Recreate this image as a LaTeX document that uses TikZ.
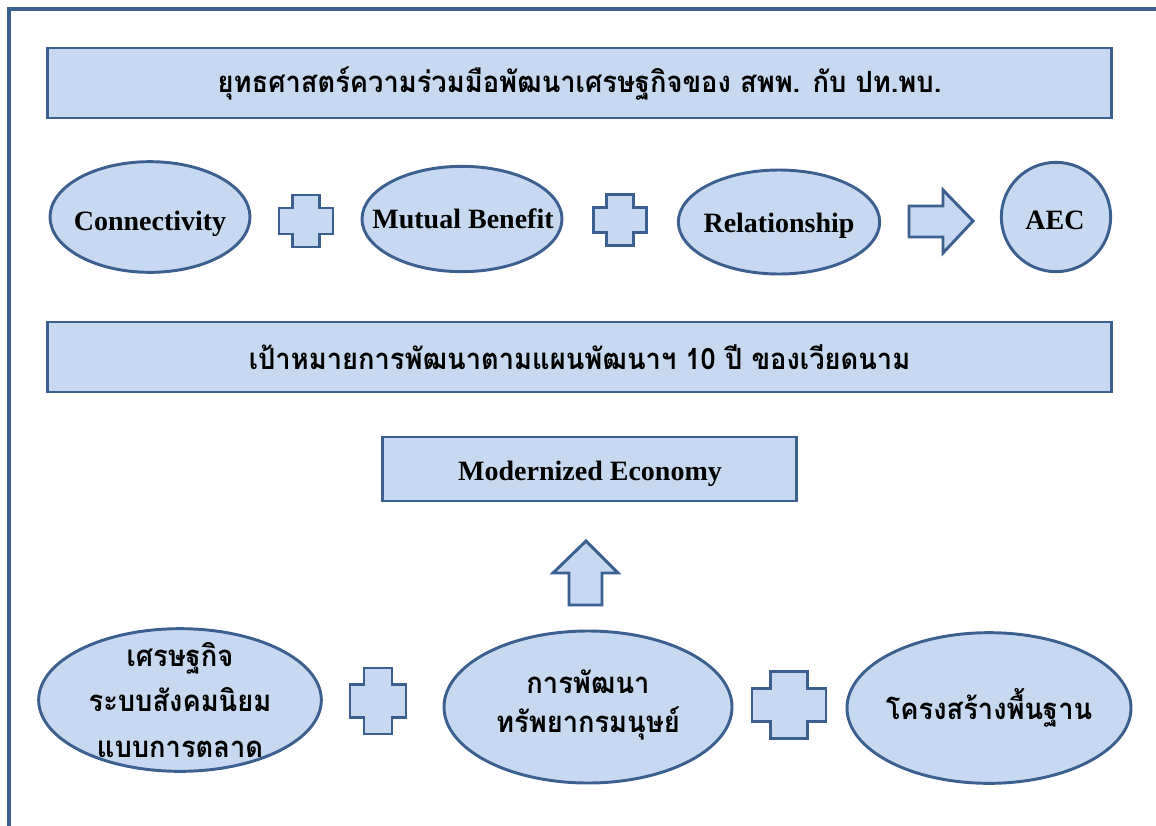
\documentclass[tikz,border=0pt]{standalone}
\usepackage{fontspec}
\setmainfont{Liberation Serif}
\newfontfamily\thaifont[Script=Thai, FakeStretch=0.93]{Loma}
\usetikzlibrary{shapes.geometric}
\definecolor{fillblue}{RGB}{198,217,241}
\definecolor{lineblue}{RGB}{59,96,143}
\tikzset{
  box/.style={draw=lineblue, fill=fillblue, line width=2.2pt},
  rectbox/.style={box, rectangle, inner sep=0pt},
  ellbox/.style={box, ellipse, inner sep=0pt},
  lat/.style={font=\bfseries\fontsize{21}{25}\selectfont, inner sep=0pt},
  th/.style={font=\thaifont\bfseries\fontsize{22}{26}\selectfont},
  frameline/.style={draw=lineblue, line width=3pt},
}
\newcommand{\crossshape}[4]{% cx cy w h
  \draw[box] ({#1-#3/4},{#2-#4/2}) -- ++({#3/2},0) -- ++(0,{#4/4}) -- ++({#3/4},0)
    -- ++(0,{#4/2}) -- ++({-#3/4},0) -- ++(0,{#4/4}) -- ++({-#3/2},0)
    -- ++(0,{-#4/4}) -- ++({-#3/4},0) -- ++(0,{-#4/2}) -- ++({#3/4},0) -- cycle;}
\begin{document}
\begin{tikzpicture}[x=0.75pt,y=-0.75pt]
\useasboundingbox (0,0) rectangle (1156,825);
\fill[white] (0,0) rectangle (1156,825);
\draw[frameline] (9,827) -- (9,9) -- (1158,9);

\node[rectbox, th, minimum width=798pt, minimum height=52.5pt] (title) at (579.5,83)
  {ยุทธศาสตร์ความร่วมมือพัฒนาเศรษฐกิจของ สพพ. กับ ปท.พบ.};

\node[ellbox, minimum width=150pt, minimum height=83pt] (conn) at (150,217) {};
\node[lat, anchor=base] (conntext) at (150,230) {Connectivity};
\node[ellbox, minimum width=150pt, minimum height=79pt] (mutual) at (462,219) {};
\node[lat, anchor=base] (mutualtext) at (463,228) {Mutual Benefit};
\node[ellbox, minimum width=151pt, minimum height=78pt] (rel) at (779,222) {};
\node[lat, anchor=base] (reltext) at (779,232) {Relationship};
\node[box, circle, inner sep=0pt, minimum size=82pt] (aec) at (1056,217) {};
\node[lat, anchor=base] (aectext) at (1055,229) {AEC};

\crossshape{306}{221}{54}{52}
\crossshape{620}{220}{53}{51}
\draw[box] (909,206) -- (943,206) -- (943,190) -- (973,221) -- (943,253) -- (943,237) -- (909,237) -- cycle;

\node[rectbox, th, minimum width=798pt, minimum height=52.5pt] (goal) at (579.5,357)
  {เป้าหมายการพัฒนาตามแผนพัฒนาฯ 10 ปี ของเวียดนาม};

\node[rectbox, minimum width=311pt, minimum height=48pt] (modern) at (589.5,469) {};
\node[lat, anchor=base] (moderntext) at (590,480) {Modernized Economy};

\draw[box] (569,605) -- (569,573) -- (553,573) -- (586,541) -- (618,573) -- (602,573) -- (602,605) -- cycle;

\node[ellbox, minimum width=212pt, minimum height=107pt] (econ) at (180,700) {};
\node[font=\thaifont\bfseries\fontsize{22}{34}\selectfont, align=center] (econtext) at (180,700)
  {เศรษฐกิจ\\ระบบสังคมนิยม\\แบบการตลาด};
\node[ellbox, minimum width=216pt, minimum height=114pt] (human) at (588,707) {};
\node[font=\thaifont\bfseries\fontsize{22}{29}\selectfont, align=center] (humantext) at (588,705)
  {การพัฒนา\\ทรัพยากรมนุษย์};
\node[ellbox, minimum width=213pt, minimum height=113pt] (infra) at (989,708) {};
\node[th] (infratext) at (989,708) {โครงสร้างพื้นฐาน};

\crossshape{378}{701}{56}{66}
\crossshape{789}{705}{74}{67}
\end{tikzpicture}
\end{document}
